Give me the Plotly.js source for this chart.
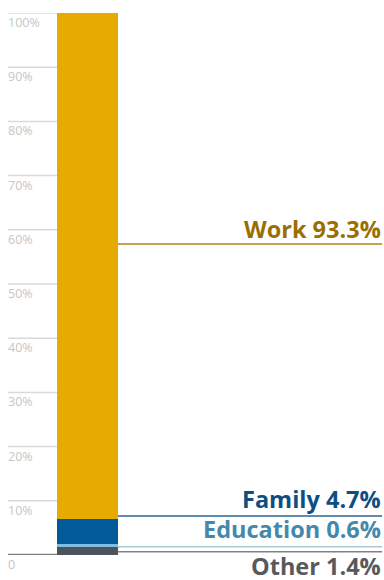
<!DOCTYPE html>
<html>
<head>
<meta charset="utf-8">
<script src="https://cdn.plot.ly/plotly-3.0.1.min.js"></script>
<style>html,body{margin:0;padding:0;background:#fff;}#chart{width:384px;height:580px;}</style>
</head>
<body>
<div id="chart"></div>
<script>
// Data (stack order bottom to top)
const categories = ['Other', 'Education', 'Family', 'Work'];
const values = [1.4, 0.6, 4.7, 93.3];
const tickValues = [0, 10, 20, 30, 40, 50, 60, 70, 80, 90, 100];
const tickLabels = ['0', '10%', '20%', '30%', '40%', '50%', '60%', '70%', '80%', '90%', '100%'];

// Styles / layout
const barColors = ['#4e535b', '#7cbde1', '#005b98', '#e6ab00'];
const labelColors = ['#56595e', '#4389ab', '#0d4f82', '#9a6f02'];
const leaderColors = ['#808285', '#a9c9dd', '#2a6493', '#b08410'];
const leaderY = [0.6, 1.5, 7.2, 57.4];
const labelAnchor = ['top', 'bottom', 'bottom', 'bottom'];
const labelShift = [4, 0, -1, -3];

const traces = categories.map((c, i) => ({
  type: 'bar', x: [0], y: [values[i]], name: c, width: 1,
  marker: {color: barColors[i], line: {width: 0}},
  hoverinfo: 'skip', showlegend: false
}));

const gridLeft = -1.303, barLeft = -0.5, barRight = 0.5, rightEnd = 4.83;
const shapes = [];
const annotations = [];
tickValues.forEach((v, i) => {
  shapes.push({type: 'line', xref: 'x', yref: 'y', x0: gridLeft, x1: barLeft, y0: v, y1: v,
    line: {color: v === 0 ? '#7f7f7f' : '#dadada', width: v === 0 ? 2.5 : 1.5}, layer: 'below'});
  annotations.push({xref: 'x', yref: 'y', x: gridLeft, y: v, xanchor: 'left', yanchor: 'top',
    yshift: 1, xshift: -2, text: tickLabels[i], showarrow: false,
    font: {family: 'Open Sans', size: 12.5, color: '#c6c6c6'}});
});
categories.forEach((c, i) => {
  shapes.push({type: 'line', xref: 'x', yref: 'y', x0: barRight, x1: rightEnd, y0: leaderY[i], y1: leaderY[i],
    line: {color: leaderColors[i], width: 1.5}});
  annotations.push({xref: 'paper', yref: 'y', x: 1, y: leaderY[i], xanchor: 'right', yanchor: labelAnchor[i],
    xshift: -1, yshift: labelShift[i], text: c + ' ' + values[i] + '%', showarrow: false,
    font: {family: 'Open Sans', size: 23.5, weight: 700, color: labelColors[i]}});
});

const layout = {
  width: 384, height: 580,
  margin: {l: 0, r: 0, t: 13, b: 25},
  paper_bgcolor: '#ffffff', plot_bgcolor: '#ffffff',
  barmode: 'stack', bargap: 0,
  xaxis: {range: [-1.434, 4.861], visible: false, fixedrange: true},
  yaxis: {range: [0, 100], visible: false, fixedrange: true},
  shapes: shapes, annotations: annotations
};

Plotly.newPlot('chart', traces, layout, {displayModeBar: false, staticPlot: true});
</script>
</body>
</html>
